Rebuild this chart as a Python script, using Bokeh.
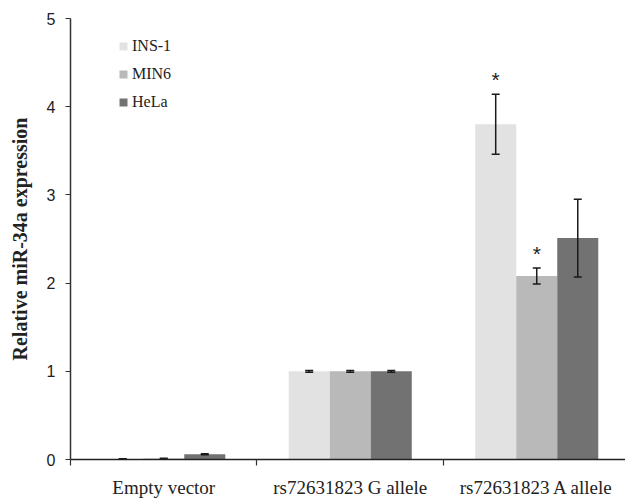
from bokeh.plotting import figure
from bokeh.models import ColumnDataSource, Whisker, TeeHead, FixedTicker, Legend, LegendItem, Range1d
from bokeh.core.properties import value
from bokeh.embed import file_html
from bokeh.resources import INLINE

groups = ["Empty vector", "rs72631823 G allele", "rs72631823 A allele"]
series = ["INS-1", "MIN6", "HeLa"]
ins1 = [0.005, 1.0, 3.80]
ins1_err = [0.003, 0.01, 0.34]
min6 = [0.01, 1.0, 2.08]
min6_err = [0.003, 0.01, 0.09]
hela = [0.06, 1.0, 2.51]
hela_err = [0.006, 0.01, 0.44]
ins1_star = [False, False, True]
min6_star = [False, False, True]
hela_star = [False, False, False]
colors = ["#e2e2e2", "#b9b9b9", "#727272"]
y_ticks = [0, 1, 2, 3, 4, 5]

BW = 0.22
offsets = [-BW, 0.0, BW]

p = figure(width=625, height=500, output_backend="svg", toolbar_location=None,
           x_range=Range1d(0, 2.976), y_range=Range1d(0, 5),
           min_border_left=70, min_border_right=0, min_border_top=18, min_border_bottom=39)
p.outline_line_color = None
p.xgrid.visible = False
p.ygrid.visible = False
p.background_fill_color = "white"

renderers = []
for vals, errs, stars, col, off in [(ins1, ins1_err, ins1_star, colors[0], offsets[0]),
                                    (min6, min6_err, min6_star, colors[1], offsets[1]),
                                    (hela, hela_err, hela_star, colors[2], offsets[2])]:
    xs = [i + 0.5 + off for i in range(len(groups))]
    src = ColumnDataSource(dict(x=xs, top=vals,
                                upper=[v + e for v, e in zip(vals, errs)],
                                lower=[v - e for v, e in zip(vals, errs)]))
    r = p.vbar(x="x", top="top", width=BW, bottom=0, source=src, fill_color=col, line_color=None)
    renderers.append(r)
    w = Whisker(base="x", upper="upper", lower="lower", source=src, level="overlay",
                line_color="#1a1a1a", line_width=1.5,
                upper_head=TeeHead(size=8, line_color="#1a1a1a", line_width=1.5),
                lower_head=TeeHead(size=8, line_color="#1a1a1a", line_width=1.5))
    p.add_layout(w)
    sx = [x for x, s in zip(xs, stars) if s]
    sy = [v + e + 0.17 for v, e, s in zip(vals, errs, stars) if s]
    if sx:
        p.text(x=sx, y=sy, text=["*"] * len(sx), text_align="center", text_baseline="middle",
               text_font=value("Liberation Sans"), text_font_size="21px", text_color="#222222")

legend = Legend(items=[LegendItem(label=s, renderers=[r]) for s, r in zip(series, renderers)],
                location=(48, 347), border_line_color=None, background_fill_alpha=0,
                glyph_width=10, glyph_height=10, label_height=20, spacing=8, padding=5,
                label_standoff=4,
                label_text_font="Liberation Serif", label_text_font_size="16px",
                label_text_color="#222222")
p.add_layout(legend)

# y axis
p.yaxis.ticker = FixedTicker(ticks=y_ticks)
p.yaxis.minor_tick_line_color = None
p.yaxis.major_tick_in = 0
p.yaxis.major_tick_out = 5
p.yaxis.major_label_standoff = 10
p.yaxis.axis_line_color = "#333333"
p.yaxis.axis_line_width = 1.5
p.yaxis.major_tick_line_color = "#333333"
p.yaxis.major_tick_line_width = 1.2
p.yaxis.major_label_text_font = "Liberation Sans"
p.yaxis.major_label_text_font_size = "16px"
p.yaxis.major_label_text_color = "#222222"
p.yaxis.axis_label = "Relative miR-34a expression"
p.yaxis.axis_label_text_font = "Liberation Serif"
p.yaxis.axis_label_text_font_style = "bold"
p.yaxis.axis_label_text_font_size = "20px"
p.yaxis.axis_label_text_color = "#222222"
p.yaxis.axis_label_standoff = 13

# x axis
centers = [i + 0.5 for i in range(len(groups))]
bounds = [float(i) for i in range(len(groups) + 1)]
p.xaxis.ticker = FixedTicker(ticks=centers, minor_ticks=bounds)
p.xaxis.major_label_overrides = {c: g for c, g in zip(centers, groups)}
p.xaxis.major_tick_line_color = None
p.xaxis.minor_tick_in = 0
p.xaxis.minor_tick_out = 6
p.xaxis.minor_tick_line_color = "#333333"
p.xaxis.minor_tick_line_width = 1.2
p.xaxis.axis_line_color = "#222222"
p.xaxis.axis_line_width = 1.5
p.xaxis.major_label_standoff = 11
p.xaxis.major_label_text_font = "Liberation Serif"
p.xaxis.major_label_text_font_size = "19px"
p.xaxis.major_label_text_color = "#222222"

open("out.html", "w").write(file_html(p, INLINE))
